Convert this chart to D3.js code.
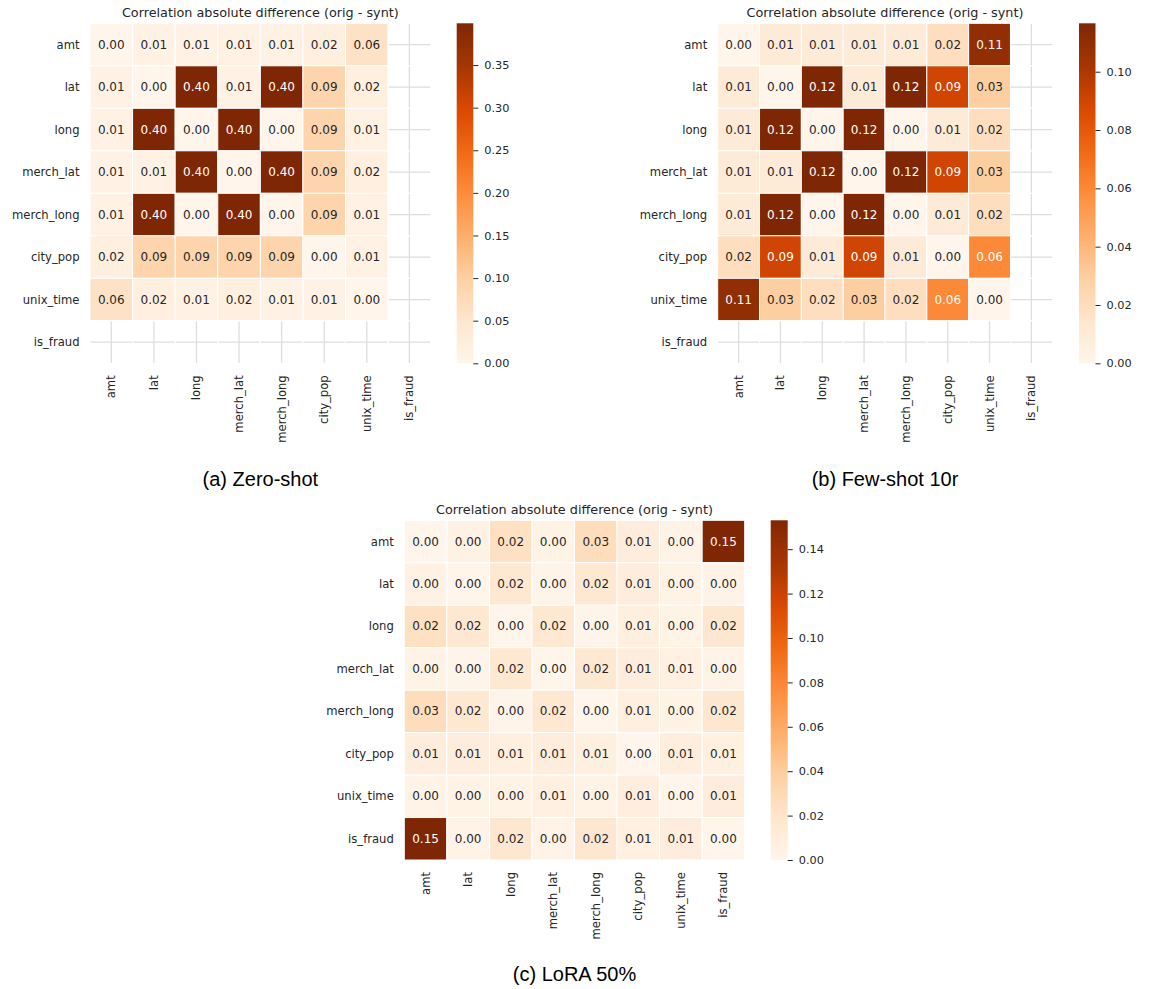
<!DOCTYPE html>
<html>
<head>
<meta charset="utf-8">
<script src="https://cdn.jsdelivr.net/npm/d3@7"></script>
<style>
  html, body { margin: 0; padding: 0; background: #ffffff; }
  svg { display: block; }
</style>
</head>
<body>
<div id="chart"></div>
<script>
// ---- data ---------------------------------------------------------------
const variables = ["amt", "lat", "long", "merch_lat", "merch_long", "city_pop", "unix_time", "is_fraud"];

const chartTitle = "Correlation absolute difference (orig - synt)";
const captions = ["(a) Zero-shot", "(b) Few-shot 10r", "(c) LoRA 50%"];

// absolute correlation differences; null = not defined (constant column)
const zeroShotDiff = [
  [0.000, 0.010, 0.010, 0.010, 0.010, 0.020, 0.060, null],
  [0.010, 0.000, 0.399, 0.010, 0.399, 0.090, 0.020, null],
  [0.010, 0.399, 0.000, 0.399, 0.000, 0.090, 0.010, null],
  [0.010, 0.010, 0.399, 0.000, 0.399, 0.090, 0.020, null],
  [0.010, 0.399, 0.000, 0.399, 0.000, 0.090, 0.010, null],
  [0.020, 0.090, 0.090, 0.090, 0.090, 0.000, 0.010, null],
  [0.060, 0.020, 0.010, 0.020, 0.010, 0.010, 0.000, null],
  [null, null, null, null, null, null, null, null]
];

const fewShotDiff = [
  [0.000, 0.010, 0.010, 0.010, 0.010, 0.020, 0.110, null],
  [0.010, 0.000, 0.1166, 0.010, 0.1166, 0.090, 0.030, null],
  [0.010, 0.1166, 0.000, 0.1166, 0.000, 0.010, 0.020, null],
  [0.010, 0.010, 0.1166, 0.000, 0.1166, 0.090, 0.030, null],
  [0.010, 0.1166, 0.000, 0.1166, 0.000, 0.010, 0.020, null],
  [0.020, 0.090, 0.010, 0.090, 0.010, 0.000, 0.060, null],
  [0.110, 0.030, 0.020, 0.030, 0.020, 0.060, 0.000, null],
  [null, null, null, null, null, null, null, null]
];

const loraDiff = [
  [0.000, 0.004, 0.024, 0.003, 0.027, 0.010, 0.002, 0.153],
  [0.004, 0.000, 0.017, 0.001, 0.017, 0.010, 0.003, 0.002],
  [0.024, 0.017, 0.000, 0.017, 0.001, 0.008, 0.003, 0.018],
  [0.003, 0.001, 0.017, 0.000, 0.017, 0.010, 0.006, 0.002],
  [0.027, 0.017, 0.001, 0.017, 0.000, 0.008, 0.003, 0.018],
  [0.010, 0.010, 0.008, 0.010, 0.008, 0.000, 0.009, 0.007],
  [0.002, 0.003, 0.003, 0.006, 0.003, 0.009, 0.000, 0.010],
  [0.153, 0.002, 0.018, 0.002, 0.018, 0.007, 0.010, 0.000]
];

const zeroShotTicks = [0.00, 0.05, 0.10, 0.15, 0.20, 0.25, 0.30, 0.35];
const fewShotTicks = [0.00, 0.02, 0.04, 0.06, 0.08, 0.10];
const loraTicks = [0.00, 0.02, 0.04, 0.06, 0.08, 0.10, 0.12, 0.14];

// Oranges colour map (piecewise linear through the ColorBrewer anchors)
const orangesAnchors = ["#fff5eb", "#fee6ce", "#fdd0a2", "#fdae6b", "#fd8d3c", "#f16913", "#d94801", "#a63603", "#7f2704"];

// ---- drawing ------------------------------------------------------------
const W = 1151, H = 989;
const textColor = "#262626";
const labelFont = "'DejaVu Sans', Verdana, sans-serif";

const svg = d3.select("#chart").append("svg")
  .attr("width", W).attr("height", H)
  .attr("viewBox", `0 0 ${W} ${H}`);
svg.append("rect").attr("width", W).attr("height", H).attr("fill", "#ffffff");

const defs = svg.append("defs");

const orangesRamp = d3.scaleLinear()
  .domain(d3.range(orangesAnchors.length).map(i => i / (orangesAnchors.length - 1)))
  .range(orangesAnchors)
  .interpolate(d3.interpolateRgb)
  .clamp(true);

function relLuminance(c) {
  const rgb = d3.rgb(c);
  const lin = v => { v /= 255; return v <= 0.03928 ? v / 12.92 : Math.pow((v + 0.055) / 1.055, 2.4); };
  return 0.2126 * lin(rgb.r) + 0.7152 * lin(rgb.g) + 0.0722 * lin(rgb.b);
}

function drawHeatmap(id, matrix, ticks, caption, box, cbar, captionY) {
  const g = svg.append("g").attr("class", "panel-" + id);

  const flat = matrix.flat().filter(v => v !== null);
  const vmin = d3.min(flat), vmax = d3.max(flat);
  const color = v => orangesRamp((v - vmin) / (vmax - vmin));

  const x = d3.scaleBand().domain(variables).range([box.x0, box.x1]).padding(0);
  const y = d3.scaleBand().domain(variables).range([box.y0, box.y1]).padding(0);

  // background grid at tick centres
  const grid = g.append("g").attr("class", "grid")
    .attr("stroke", "#dddddd").attr("stroke-width", 1.3);
  grid.selectAll("line.v").data(variables).join("line")
    .attr("class", "v")
    .attr("x1", d => x(d) + x.bandwidth() / 2).attr("x2", d => x(d) + x.bandwidth() / 2)
    .attr("y1", box.y0).attr("y2", box.y1);
  grid.selectAll("line.h").data(variables).join("line")
    .attr("class", "h")
    .attr("y1", d => y(d) + y.bandwidth() / 2).attr("y2", d => y(d) + y.bandwidth() / 2)
    .attr("x1", box.x0).attr("x2", box.x1);

  // cells
  const cells = [];
  matrix.forEach((row, i) => row.forEach((v, j) => cells.push({ r: variables[i], c: variables[j], v })));

  g.append("g").attr("class", "cells").selectAll("rect").data(cells).join("rect")
    .attr("x", d => x(d.c)).attr("y", d => y(d.r))
    .attr("width", x.bandwidth()).attr("height", y.bandwidth())
    .attr("fill", d => d.v === null ? "none" : color(d.v))
    .attr("stroke", "#ffffff").attr("stroke-width", 1);

  g.append("g").attr("class", "annot").selectAll("text").data(cells.filter(d => d.v !== null)).join("text")
    .attr("x", d => x(d.c) + x.bandwidth() / 2)
    .attr("y", d => y(d.r) + y.bandwidth() / 2)
    .attr("text-anchor", "middle").attr("dominant-baseline", "central")
    .attr("font-family", labelFont).attr("font-size", 12)
    .attr("fill", d => relLuminance(color(d.v)) < 0.408 ? "#ffffff" : textColor)
    .text(d => d.v.toFixed(2));

  // row labels
  g.append("g").attr("class", "ylabels").selectAll("text").data(variables).join("text")
    .attr("x", box.x0 - 10.5)
    .attr("y", d => y(d) + y.bandwidth() / 2)
    .attr("text-anchor", "end").attr("dominant-baseline", "central")
    .attr("font-family", labelFont).attr("font-size", 11.6).attr("fill", textColor)
    .text(d => d);

  // column labels (vertical)
  g.append("g").attr("class", "xlabels").selectAll("text").data(variables).join("text")
    .attr("transform", d => `translate(${x(d) + x.bandwidth() / 2},${box.y1 + 12}) rotate(-90)`)
    .attr("text-anchor", "end").attr("dominant-baseline", "central")
    .attr("font-family", labelFont).attr("font-size", 11.6).attr("fill", textColor)
    .text(d => d);

  // title
  g.append("text")
    .attr("x", (box.x0 + box.x1) / 2).attr("y", box.y0 - 11)
    .attr("text-anchor", "middle").attr("dominant-baseline", "central")
    .attr("font-family", labelFont).attr("font-size", 12.8).attr("fill", textColor)
    .text(chartTitle);

  // colour bar
  const gradId = "grad-" + id;
  const grad = defs.append("linearGradient").attr("id", gradId)
    .attr("x1", 0).attr("y1", 1).attr("x2", 0).attr("y2", 0);
  d3.range(0, 1.0001, 0.02).forEach(t => {
    grad.append("stop").attr("offset", t).attr("stop-color", orangesRamp(t));
  });
  g.append("rect")
    .attr("x", cbar.x0).attr("y", cbar.y0)
    .attr("width", cbar.x1 - cbar.x0).attr("height", cbar.y1 - cbar.y0)
    .attr("fill", `url(#${gradId})`);

  const cscale = d3.scaleLinear().domain([vmin, vmax]).range([cbar.y1, cbar.y0]);
  const axis = d3.axisRight(cscale).tickValues(ticks).tickFormat(d3.format(".2f"))
    .tickSize(5).tickPadding(6);
  const ax = g.append("g").attr("transform", `translate(${cbar.x1},0)`).call(axis);
  ax.select(".domain").remove();
  ax.selectAll(".tick line").attr("stroke", textColor).attr("stroke-width", 1);
  ax.selectAll(".tick text").attr("fill", textColor)
    .attr("font-family", labelFont).attr("font-size", 11.3);

  // caption
  g.append("text")
    .attr("x", (box.x0 + box.x1) / 2).attr("y", captionY)
    .attr("text-anchor", "middle")
    .attr("font-family", "'Liberation Sans', Arial, Helvetica, sans-serif")
    .attr("font-size", 20).attr("fill", "#000000")
    .text(caption);
}

drawHeatmap("a", zeroShotDiff, zeroShotTicks, captions[0],
  { x0: 90, x1: 430.7, y0: 23.3, y1: 363.3 },
  { x0: 456.7, x1: 473.3, y0: 23.3, y1: 363.3 }, 486);

drawHeatmap("b", fewShotDiff, fewShotTicks, captions[1],
  { x0: 717.7, x1: 1052.3, y0: 23.3, y1: 363.3 },
  { x0: 1079, x1: 1095.5, y0: 23.3, y1: 363.3 }, 486);

drawHeatmap("c", loraDiff, loraTicks, captions[2],
  { x0: 404.3, x1: 744.7, y0: 520.3, y1: 860 },
  { x0: 770.7, x1: 787.7, y0: 520.3, y1: 860 }, 981);
</script>
</body>
</html>
